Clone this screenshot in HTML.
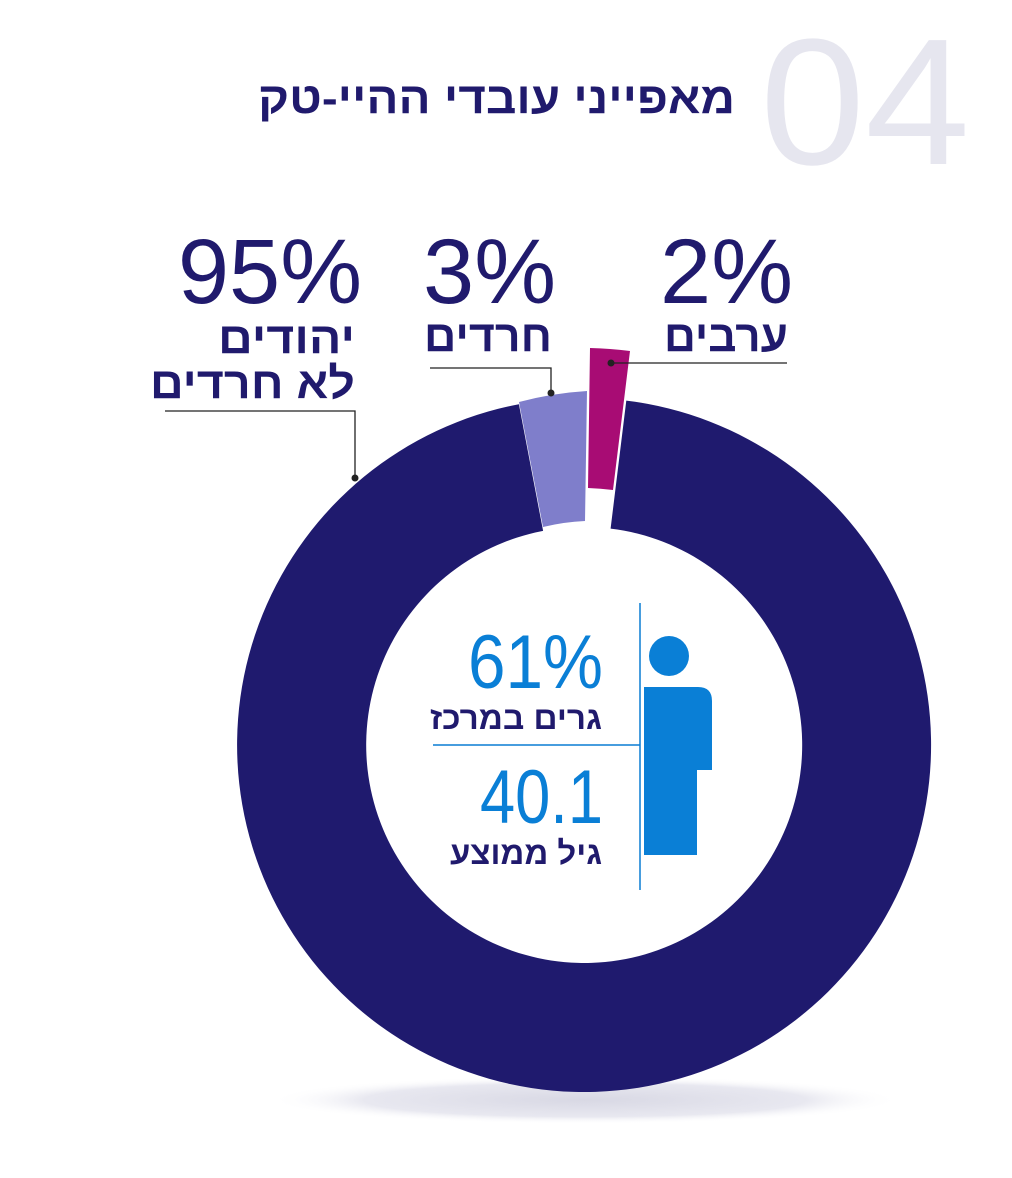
<!DOCTYPE html>
<html><head><meta charset="utf-8"><style>
html,body{margin:0;padding:0;background:#fff;}
svg{display:block}
text{font-family:"Liberation Sans","Noto Sans CJK SC",sans-serif;}
</style></head><body>
<svg width="1012" height="1178" viewBox="0 0 1012 1178" xmlns="http://www.w3.org/2000/svg">
<defs>
<radialGradient id="sh" cx="50%" cy="50%" r="50%">
<stop offset="0" stop-color="#d8d8e4"/><stop offset="0.7" stop-color="#e8e8f0"/><stop offset="1" stop-color="#fff" stop-opacity="0"/>
</radialGradient>
</defs>
<ellipse cx="585" cy="1100" rx="315" ry="24" fill="url(#sh)"/>
<text x="970" y="164" font-size="180" fill="#e6e6ef" text-anchor="end" textLength="210" lengthAdjust="spacingAndGlyphs">04</text>
<text x="735" y="113" font-size="44" font-weight="bold" fill="#201a6d" text-anchor="end" textLength="477" lengthAdjust="spacingAndGlyphs">מאפייני עובדי ההיי-טק</text>

<path d="M 626.3 400.6 A 347 347 0 1 1 518.9 404.2 L 543.1 530.9 A 218 218 0 1 0 610.6 528.6 Z" fill="#1f1a6e"/>
<path d="M 519 402 A 347 347 0 0 1 587 391 L 585 521 A 218 218 0 0 0 543 527 Z" fill="#7f7ecb"/>
<path d="M 590 348 A 400 400 0 0 1 630 351 L 613 490 A 260 260 0 0 0 588 488 Z" fill="#a80c74"/>

<text x="362" y="303" font-size="92" fill="#201a6d" text-anchor="end">95%</text>
<text x="355" y="353" font-size="44" font-weight="bold" fill="#201a6d" text-anchor="end" textLength="137" lengthAdjust="spacingAndGlyphs">יהודים</text>
<text x="355" y="398" font-size="44" font-weight="bold" fill="#201a6d" text-anchor="end" textLength="205" lengthAdjust="spacingAndGlyphs">לא חרדים</text>
<polyline points="165,411 355,411 355,478" fill="none" stroke="#222" stroke-width="1.3"/>
<circle cx="355" cy="478" r="3.5" fill="#222"/>

<text x="556" y="303" font-size="92" fill="#201a6d" text-anchor="end">3%</text>
<text x="552" y="351" font-size="44" font-weight="bold" fill="#201a6d" text-anchor="end" textLength="128" lengthAdjust="spacingAndGlyphs">חרדים</text>
<polyline points="430,368 551,368 551,393" fill="none" stroke="#222" stroke-width="1.3"/>
<circle cx="551" cy="393" r="3.5" fill="#222"/>

<text x="793" y="303" font-size="92" fill="#201a6d" text-anchor="end">2%</text>
<text x="788" y="351" font-size="44" font-weight="bold" fill="#201a6d" text-anchor="end" textLength="124" lengthAdjust="spacingAndGlyphs">ערבים</text>
<line x1="611" y1="363" x2="787" y2="363" stroke="#222" stroke-width="1.3"/>
<circle cx="611" cy="363" r="3.5" fill="#222"/>

<line x1="640" y1="603" x2="640" y2="890" stroke="#0a7dd4" stroke-width="1.5"/>
<line x1="433" y1="745" x2="640" y2="745" stroke="#0a7dd4" stroke-width="1.5"/>
<text x="603" y="688" font-size="76" fill="#0a7fd6" text-anchor="end" textLength="135" lengthAdjust="spacingAndGlyphs">61%</text>
<text x="602" y="729" font-size="32" font-weight="bold" fill="#201a6d" text-anchor="end" textLength="172" lengthAdjust="spacingAndGlyphs">גרים במרכז</text>
<text x="603" y="823" font-size="76" fill="#0a7fd6" text-anchor="end" textLength="123" lengthAdjust="spacingAndGlyphs">40.1</text>
<text x="602" y="864" font-size="32" font-weight="bold" fill="#201a6d" text-anchor="end" textLength="152" lengthAdjust="spacingAndGlyphs">גיל ממוצע</text>
<circle cx="669" cy="656" r="20" fill="#0a7fd6"/>
<path d="M 644 687 L 698 687 Q 712 687 712 701 L 712 770 L 697 770 L 697 855 L 644 855 Z" fill="#0a7fd6"/>
</svg>
</body></html>
